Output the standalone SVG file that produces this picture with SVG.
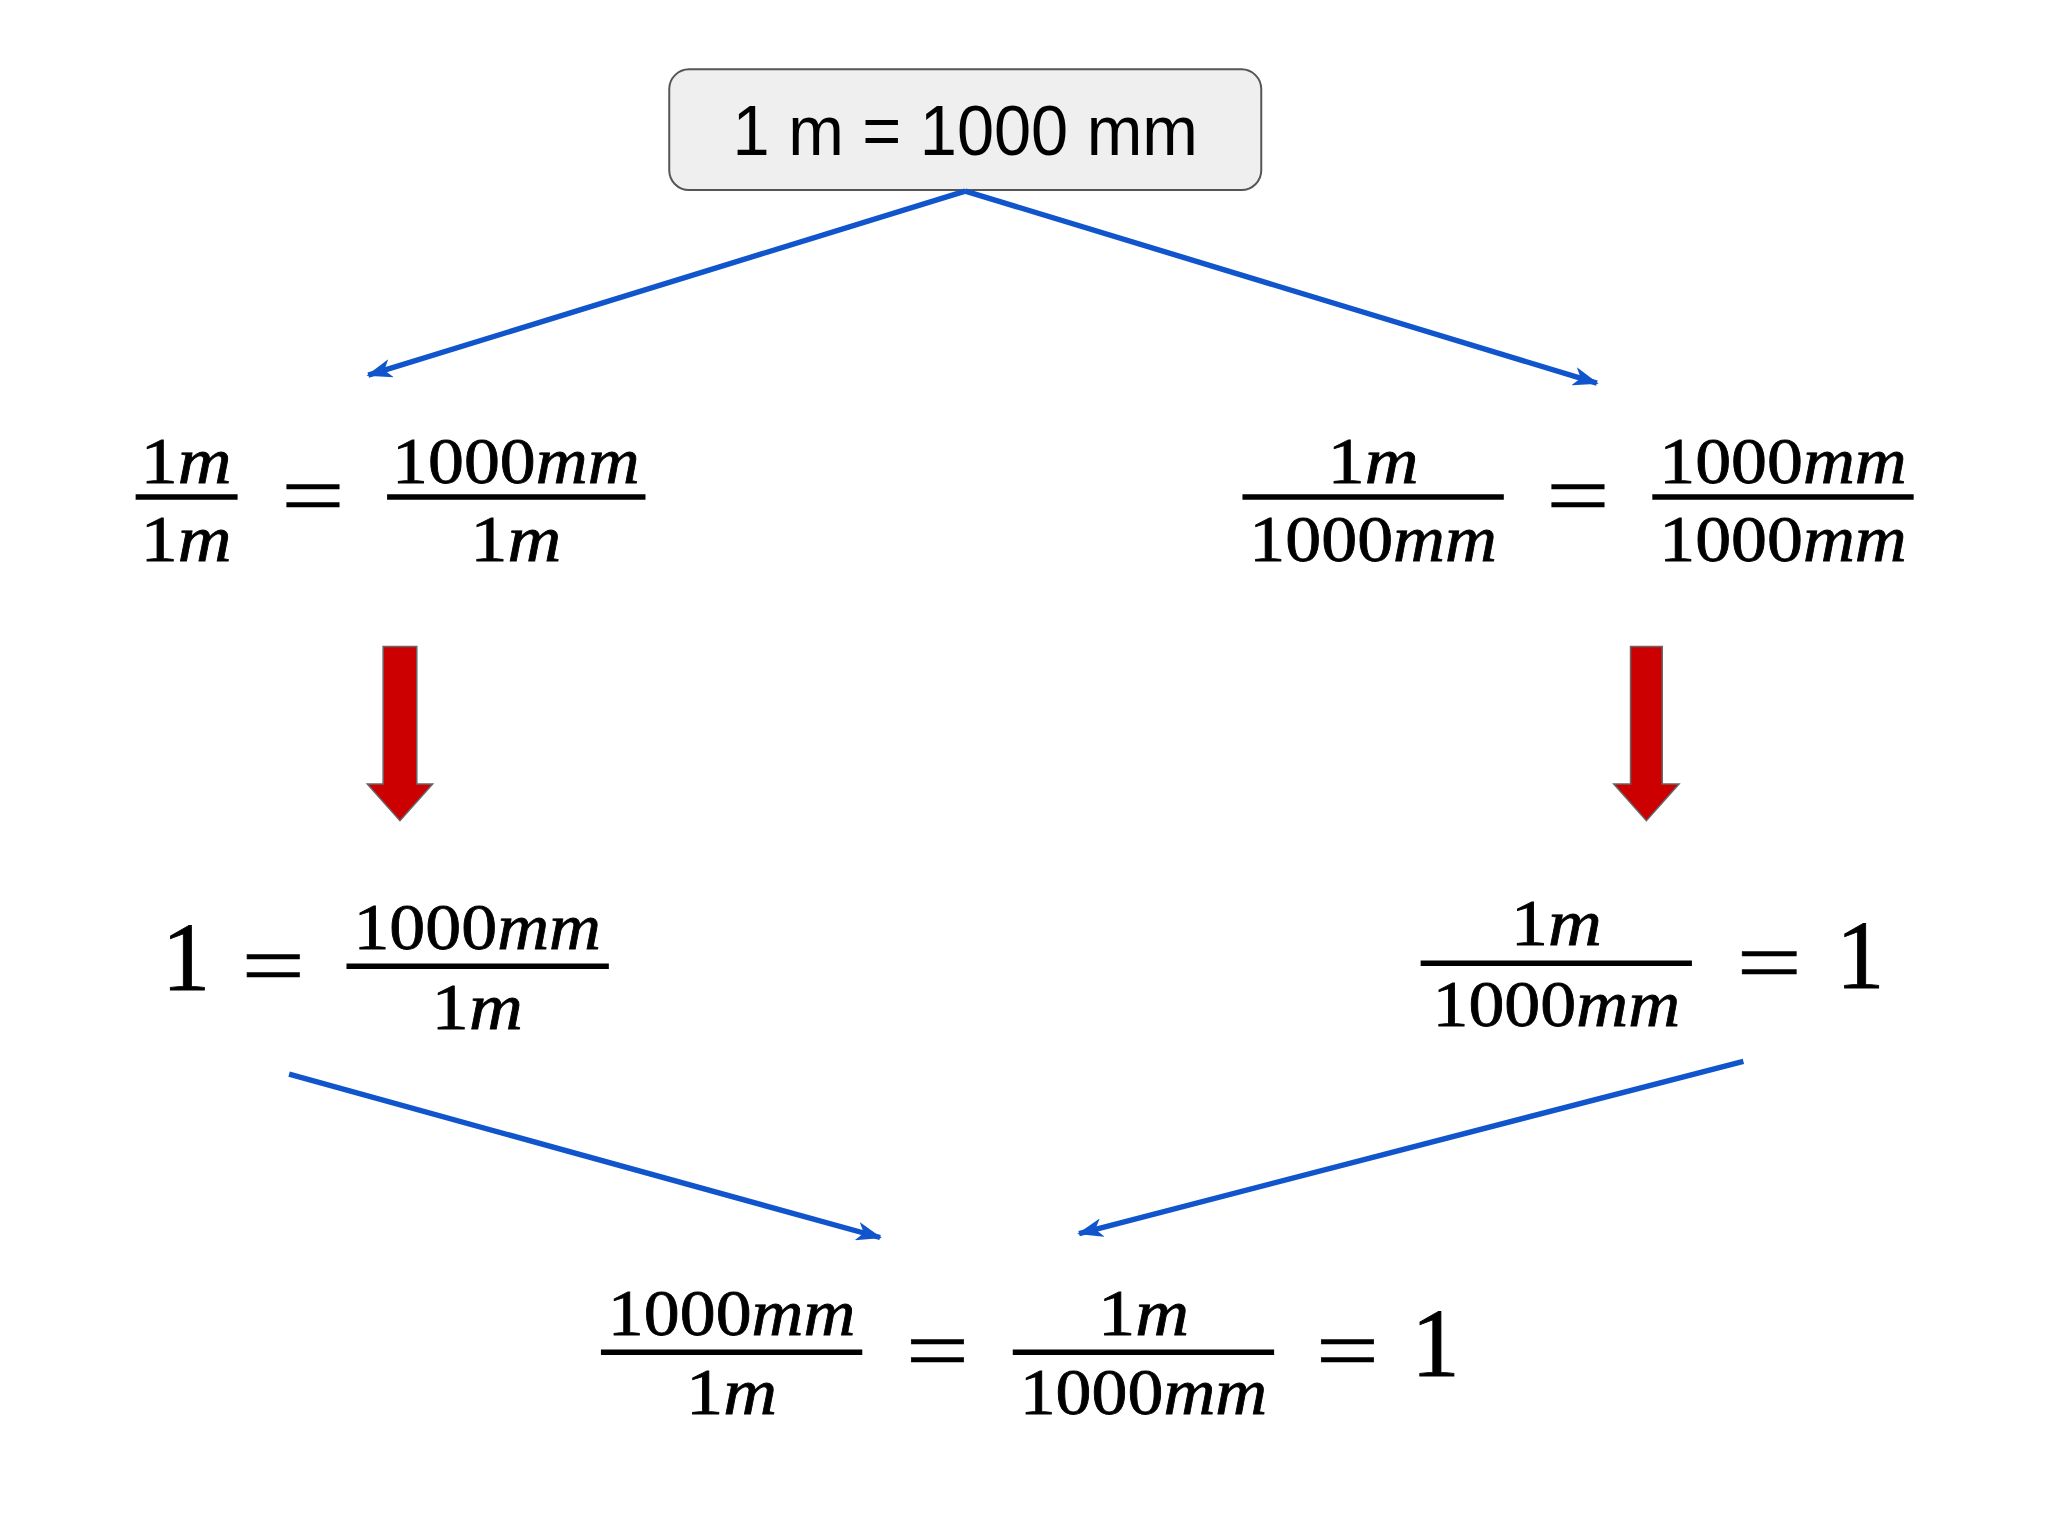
<svg xmlns="http://www.w3.org/2000/svg" width="2048" height="1536" viewBox="0 0 2048 1536">
<defs>
<style>
.m{font-family:"Liberation Serif","Times New Roman",serif;font-size:66px;fill:#000;stroke:#000;stroke-width:0.8;text-anchor:middle}
.i{font-style:italic}
.big{font-family:"Liberation Serif","Times New Roman",serif;font-size:98px;fill:#000;stroke:#000;stroke-width:0.8;text-anchor:middle}
.eq{font-family:"Liberation Serif","Times New Roman",serif;font-size:90px;fill:#000;stroke:#000;stroke-width:0.6;text-anchor:middle}
.bar{stroke:#000;stroke-width:5.5}
.conn{stroke:#1155cc;stroke-width:5.5;fill:none;marker-end:url(#ah)}
.red{fill:#cc0000;stroke:#666;stroke-width:1.5}
</style>
<marker id="ah" markerWidth="26" markerHeight="19" refX="24" refY="9.5" orient="auto" markerUnits="userSpaceOnUse" viewBox="0 0 26 19">
<path d="M0,0 L26,9.5 L0,19 L7,9.5 z" fill="#1155cc"/>
</marker>
</defs>
<rect width="2048" height="1536" fill="#fff"/>
<g id="diagram" transform="scale(0.99)">
<g id="top">
<rect x="676" y="70" width="598" height="122" rx="20" fill="#efefef" stroke="#555" stroke-width="2"/>
<text x="975" y="157" font-family="Liberation Sans, Arial, sans-serif" font-size="72" text-anchor="middle" textLength="470" lengthAdjust="spacingAndGlyphs">1 m = 1000 mm</text>
</g>

<g id="connectors">
<line class="conn" x1="975" y1="193" x2="372" y2="379"/>
<line class="conn" x1="975" y1="193" x2="1613" y2="387"/>
<line class="conn" x1="292" y1="1085" x2="889" y2="1250"/>
<line class="conn" x1="1761" y1="1072" x2="1090" y2="1246"/>
<polygon class="red" points="387,653 421,653 421,792 437,792 404,829 371,792 387,792"/>
<polygon class="red" points="1647,653 1679,653 1679,792 1696,792 1663,829 1630,792 1647,792"/>
</g>

<g id="eq-left-top">
<text class="m" x="188" y="488" textLength="92" lengthAdjust="spacingAndGlyphs">1<tspan class="i">m</tspan></text>
<line class="bar" x1="137" y1="502" x2="240" y2="502"/>
<text class="m" x="188" y="567" textLength="92" lengthAdjust="spacingAndGlyphs">1<tspan class="i">m</tspan></text>
<text class="eq" x="316" y="530" textLength="64" lengthAdjust="spacingAndGlyphs">=</text>
<text class="m" x="521" y="488" textLength="250" lengthAdjust="spacingAndGlyphs">1000<tspan class="i">mm</tspan></text>
<line class="bar" x1="391" y1="502" x2="652" y2="502"/>
<text class="m" x="521" y="567" textLength="92" lengthAdjust="spacingAndGlyphs">1<tspan class="i">m</tspan></text>
</g>

<g id="eq-right-top">
<text class="m" x="1387" y="488" textLength="92" lengthAdjust="spacingAndGlyphs">1<tspan class="i">m</tspan></text>
<line class="bar" x1="1255" y1="502" x2="1519" y2="502"/>
<text class="m" x="1387" y="567" textLength="250" lengthAdjust="spacingAndGlyphs">1000<tspan class="i">mm</tspan></text>
<text class="eq" x="1594" y="530" textLength="64" lengthAdjust="spacingAndGlyphs">=</text>
<text class="m" x="1801" y="488" textLength="250" lengthAdjust="spacingAndGlyphs">1000<tspan class="i">mm</tspan></text>
<line class="bar" x1="1669" y1="502" x2="1933" y2="502"/>
<text class="m" x="1801" y="567" textLength="250" lengthAdjust="spacingAndGlyphs">1000<tspan class="i">mm</tspan></text>
</g>

<g id="eq-left-mid">
<text class="big" x="188" y="1000">1</text>
<text class="eq" x="276" y="1005" textLength="64" lengthAdjust="spacingAndGlyphs">=</text>
<text class="m" x="482" y="959" textLength="250" lengthAdjust="spacingAndGlyphs">1000<tspan class="i">mm</tspan></text>
<line class="bar" x1="350" y1="976" x2="615" y2="976"/>
<text class="m" x="482" y="1039" textLength="92" lengthAdjust="spacingAndGlyphs">1<tspan class="i">m</tspan></text>
</g>

<g id="eq-right-mid">
<text class="m" x="1572" y="955" textLength="92" lengthAdjust="spacingAndGlyphs">1<tspan class="i">m</tspan></text>
<line class="bar" x1="1435" y1="973" x2="1709" y2="973"/>
<text class="m" x="1572" y="1036" textLength="250" lengthAdjust="spacingAndGlyphs">1000<tspan class="i">mm</tspan></text>
<text class="eq" x="1787" y="1002" textLength="66" lengthAdjust="spacingAndGlyphs">=</text>
<text class="big" x="1879" y="998">1</text>
</g>

<g id="eq-bottom">
<text class="m" x="739" y="1349" textLength="250" lengthAdjust="spacingAndGlyphs">1000<tspan class="i">mm</tspan></text>
<line class="bar" x1="607" y1="1366" x2="871" y2="1366"/>
<text class="m" x="739" y="1428" textLength="92" lengthAdjust="spacingAndGlyphs">1<tspan class="i">m</tspan></text>
<text class="eq" x="947" y="1394" textLength="64" lengthAdjust="spacingAndGlyphs">=</text>
<text class="m" x="1155" y="1349" textLength="92" lengthAdjust="spacingAndGlyphs">1<tspan class="i">m</tspan></text>
<line class="bar" x1="1023" y1="1366" x2="1287" y2="1366"/>
<text class="m" x="1155" y="1428" textLength="250" lengthAdjust="spacingAndGlyphs">1000<tspan class="i">mm</tspan></text>
<text class="eq" x="1361" y="1394" textLength="64" lengthAdjust="spacingAndGlyphs">=</text>
<text class="big" x="1450" y="1390">1</text>
</g>
</g>
</svg>
